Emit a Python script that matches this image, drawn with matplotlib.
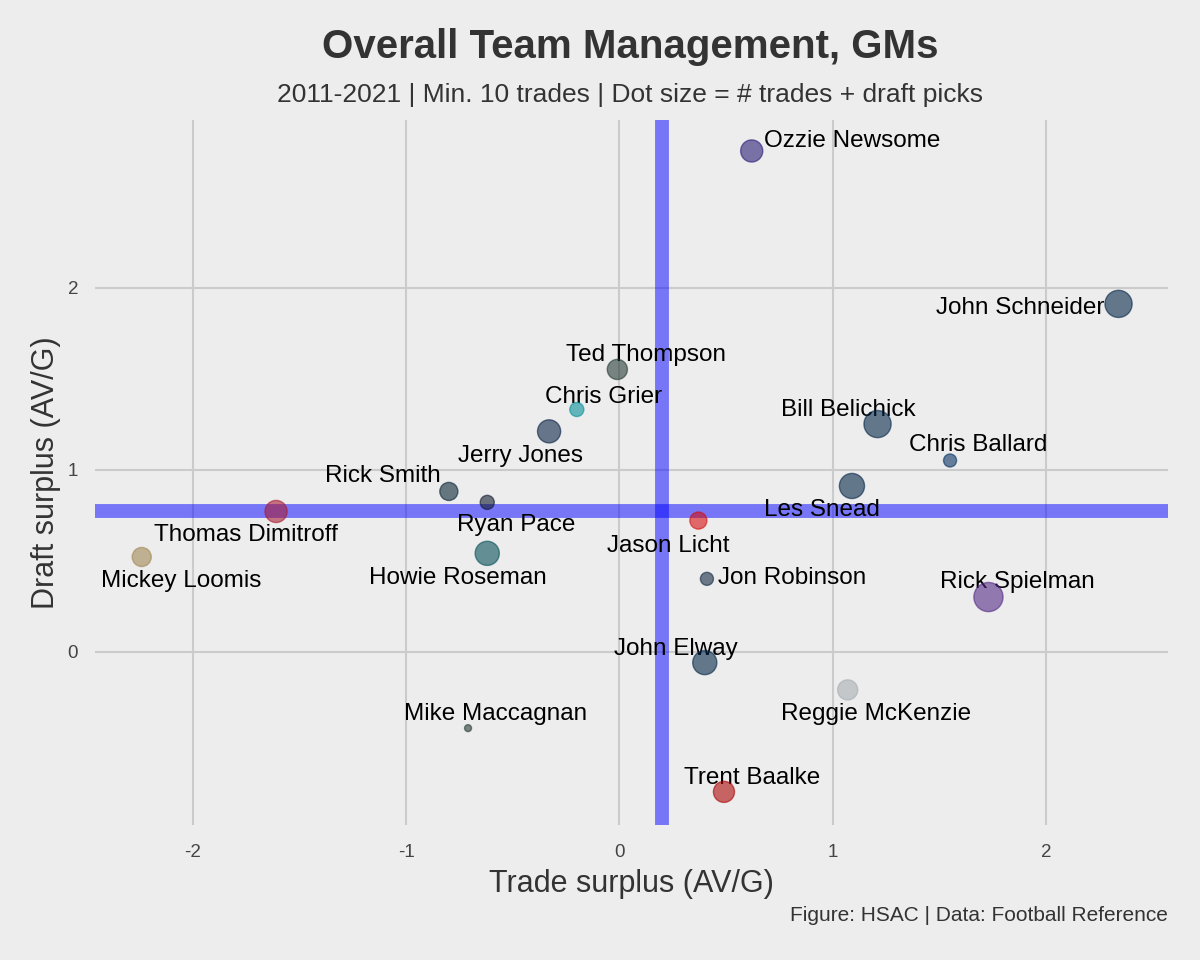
import matplotlib
matplotlib.use("Agg")
import matplotlib.pyplot as plt

plt.rcParams['font.family'] = ['Liberation Sans', 'DejaVu Sans']
plt.rcParams['axes.unicode_minus'] = False

gms = ["Ozzie Newsome", "John Schneider", "Ted Thompson", "Chris Grier",
       "Bill Belichick", "Chris Ballard", "Jerry Jones", "Rick Smith",
       "Ryan Pace", "Howie Roseman", "Les Snead", "Thomas Dimitroff",
       "Mickey Loomis", "Jason Licht", "Jon Robinson", "Rick Spielman",
       "John Elway", "Reggie McKenzie", "Mike Maccagnan", "Trent Baalke"]
trade_surplus = [0.62, 2.34, -0.01, -0.20, 1.21, 1.55, -0.33, -0.80,
                 -0.62, -0.62, 1.09, -1.61, -2.24, 0.37, 0.41, 1.73,
                 0.40, 1.07, -0.71, 0.49]
draft_surplus = [2.75, 1.91, 1.55, 1.33, 1.25, 1.05, 1.21, 0.88,
                 0.82, 0.54, 0.91, 0.77, 0.52, 0.72, 0.40, 0.30,
                 -0.06, -0.21, -0.42, -0.77]
n_moves = [121, 182, 100, 49, 182, 42, 132, 81,
           49, 144, 156, 121, 90, 72, 42, 210,
           144, 100, 12, 110]
team_colors = ["#241773", "#002244", "#203731", "#008E97",
               "#002244", "#002C5F", "#041E42", "#03202F",
               "#0B162A", "#004C54", "#002244", "#A71930",
               "#9F8450", "#D50A0A", "#0C2340", "#4F2683",
               "#002244", "#A5ACAF", "#203731", "#AA0000"]

avg_trade = 0.20
avg_draft = 0.77

# label offsets in pixels (ggrepel-ish placement)
label_offsets = [(100, 13), (-98, -1), (29, 17), (27, 16),
                 (-29, 17), (28, 18), (-29, -22), (-66, 18),
                 (29, -20), (-29, -22), (-30, -21), (-30, -21),
                 (39, -21), (-30, -22), (85, 4), (29, 18),
                 (-29, 17), (28, -21), (28, 17), (28, 17)]

bg = "#ededed"
fig = plt.figure(figsize=(12, 9.6), dpi=100, facecolor=bg)
ax = fig.add_axes([0.079, 0.141, 0.894, 0.734], facecolor=bg)

ax.axvline(avg_trade, color="blue", alpha=0.5, lw=10, zorder=1)
ax.axhline(avg_draft, color="blue", alpha=0.5, lw=10, zorder=1)

sizes = [n * 2.1 for n in n_moves]
ax.scatter(trade_surplus, draft_surplus, s=sizes, c=team_colors, alpha=0.58,
           edgecolors=team_colors, linewidths=1.0, zorder=3)

for name, x, y, off in zip(gms, trade_surplus, draft_surplus, label_offsets):
    ax.annotate(name, (x, y), xytext=(off[0], off[1] - 3), textcoords="offset pixels",
                ha="center", va="center", fontsize=17.5, color="black", zorder=2)

ax.set_xlim(-2.46, 2.57)
ax.set_ylim(-0.95, 2.92)
ax.set_xticks([-2, -1, 0, 1, 2])
ax.set_yticks([0, 1, 2])
ax.grid(True, color="#cbcbcb", lw=1.5, zorder=0)
ax.set_axisbelow(True)
for sp in ax.spines.values():
    sp.set_visible(False)
ax.tick_params(length=0, labelsize=13.5, labelcolor="#444444")
ax.tick_params(axis="x", pad=14)
ax.tick_params(axis="y", pad=12)

ax.set_xlabel("Trade surplus (AV/G)", fontsize=22, color="#333333", labelpad=6)
ax.set_ylabel("Draft surplus (AV/G)", fontsize=22, color="#333333", labelpad=5)

fig.text(0.525, 0.951, "Overall Team Management, GMs", ha="center", va="center",
         fontsize=29, fontweight="bold", color="#333333")
fig.text(0.525, 0.901, "2011-2021 | Min. 10 trades | Dot size = # trades + draft picks",
         ha="center", va="center", fontsize=19, color="#333333")
fig.text(0.973, 0.046, "Figure: HSAC | Data: Football Reference", ha="right",
         va="center", fontsize=15, color="#333333")

fig.savefig("out.png", dpi=100, facecolor=bg)
